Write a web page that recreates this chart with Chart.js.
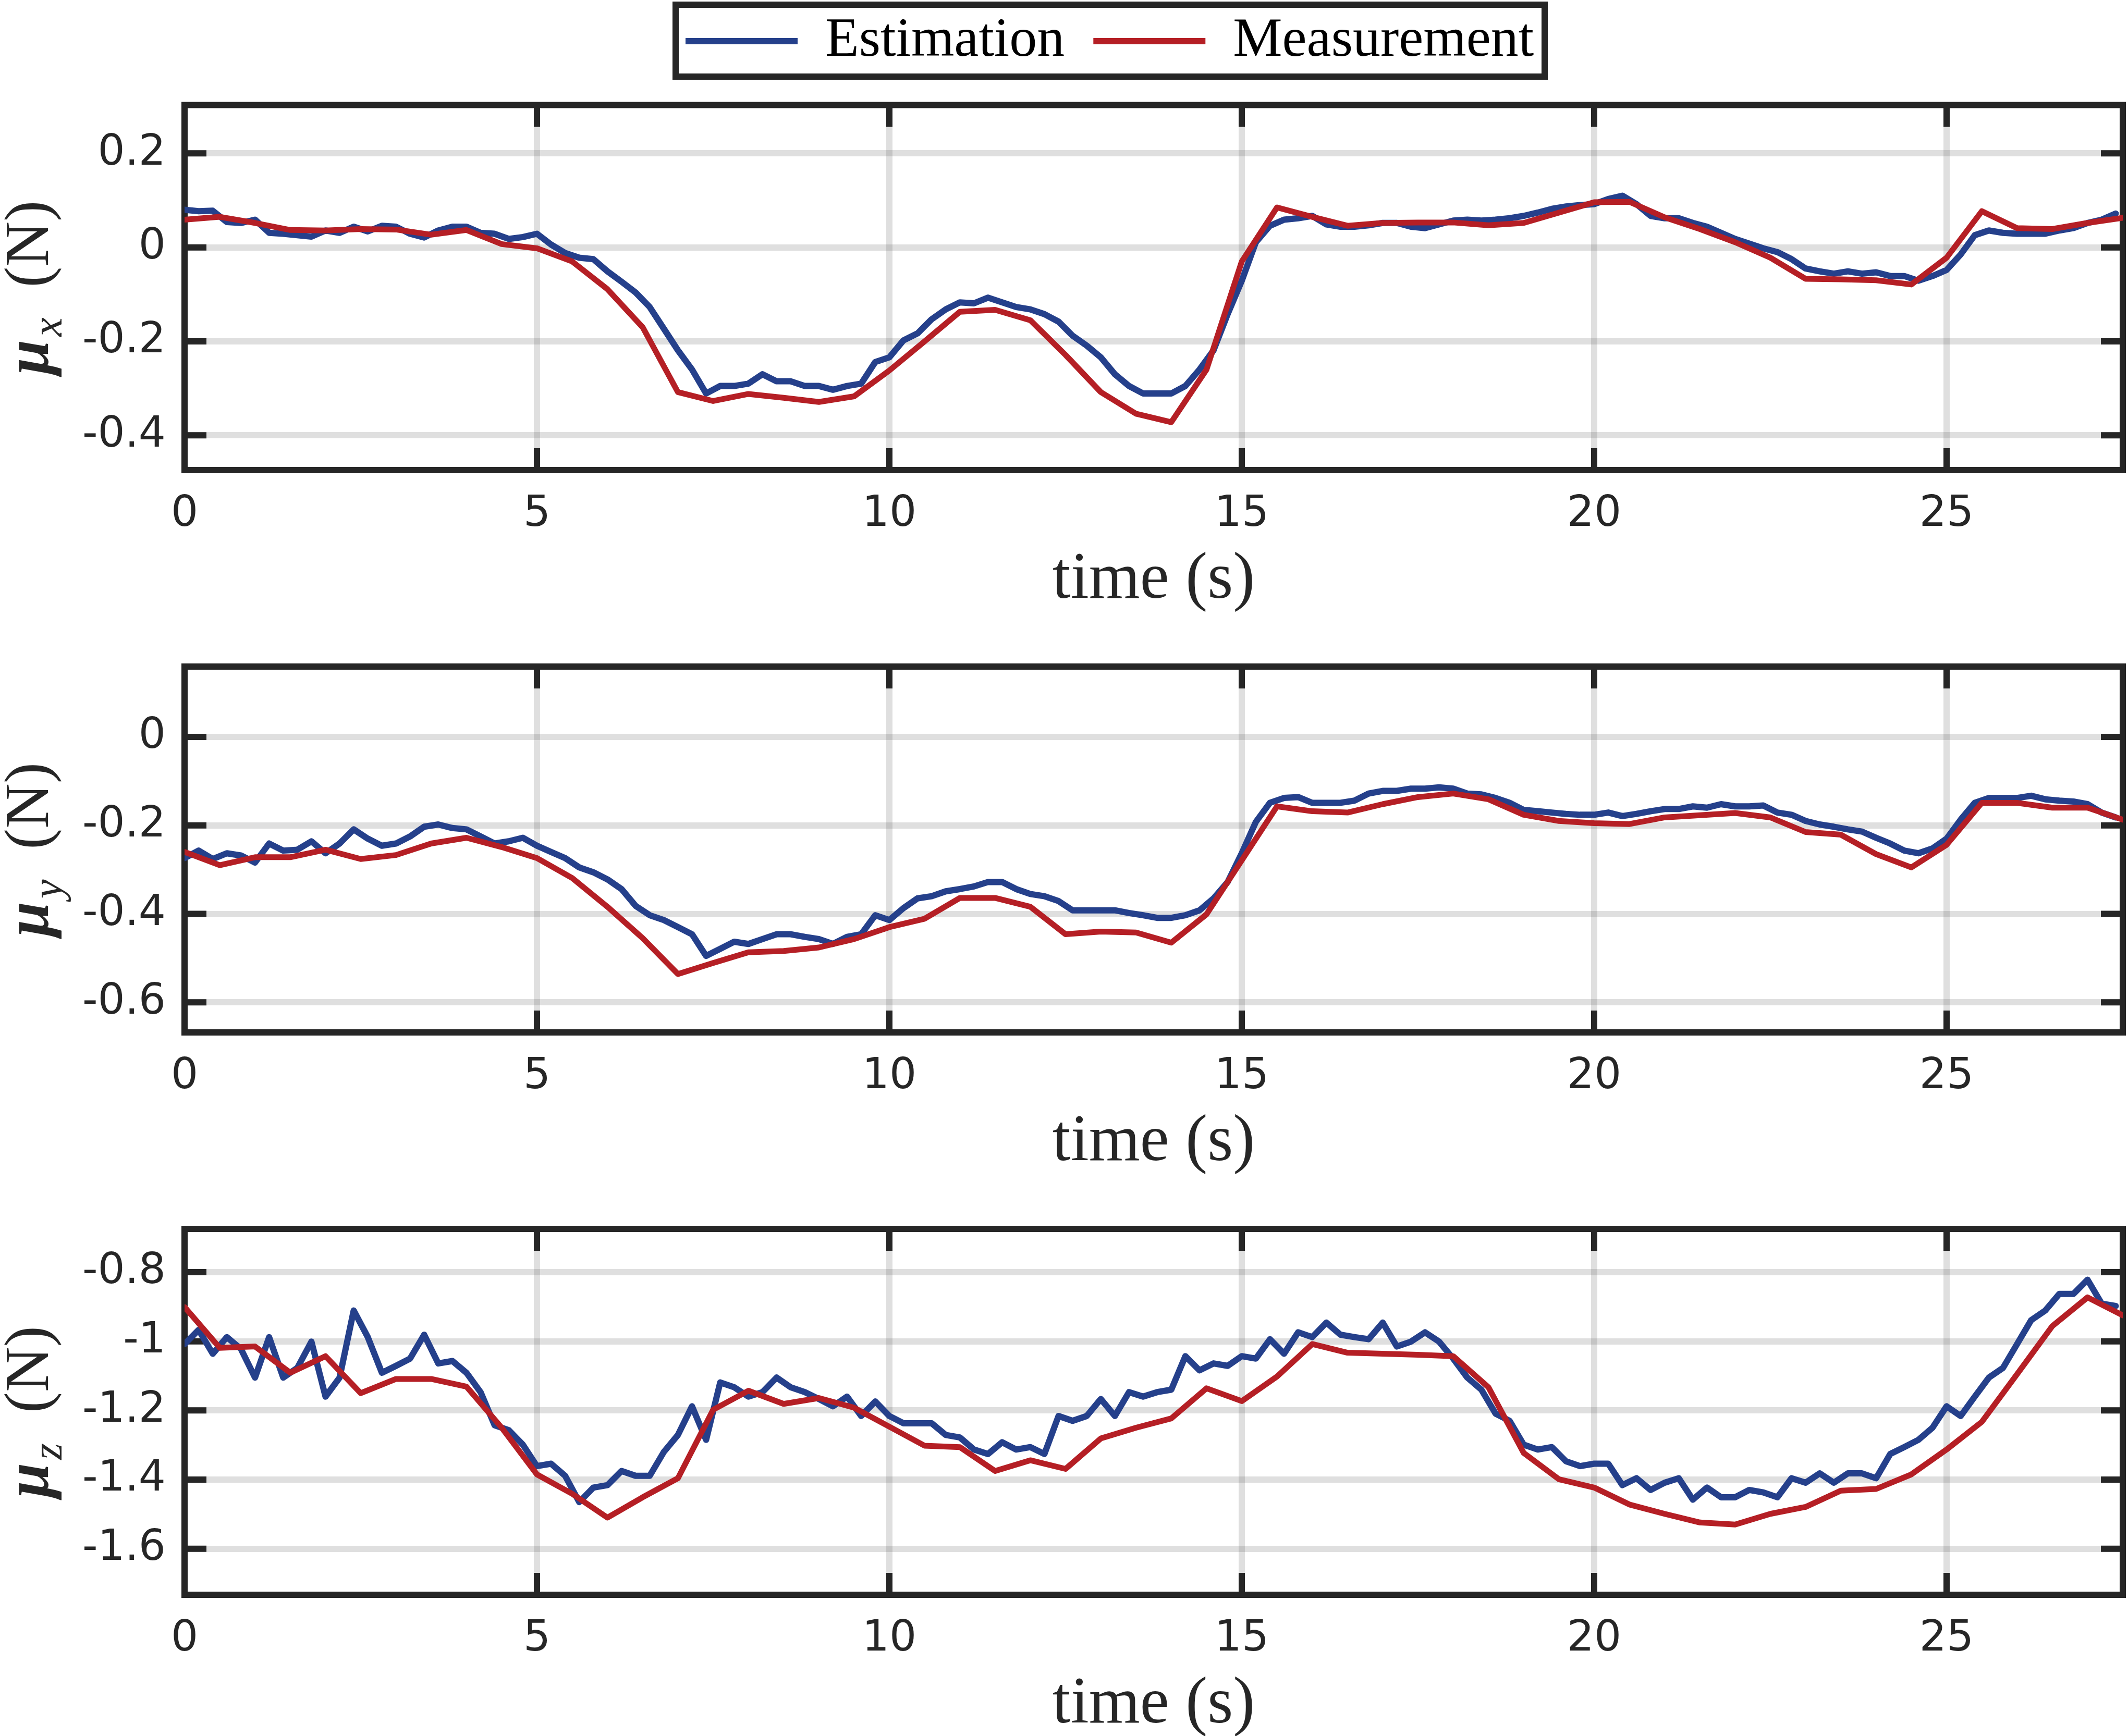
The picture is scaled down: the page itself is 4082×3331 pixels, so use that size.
<!DOCTYPE html>
<html><head><meta charset="utf-8">
<script src="https://cdn.jsdelivr.net/npm/chart.js@4.4.1/dist/chart.umd.min.js"></script>
<style>
html,body{margin:0;padding:0;background:#fff;}
body{width:4082px;height:3331px;position:relative;overflow:hidden;}
canvas{position:absolute;left:0;}
</style></head><body>
<canvas id="c1" width="4082" height="1180" style="top:0px"></canvas>
<canvas id="c2" width="4082" height="1090" style="top:1180px"></canvas>
<canvas id="c3" width="4082" height="1061" style="top:2270px"></canvas>
<script>
// ---------- data ----------
const seriesNames = ['Estimation', 'Measurement'];
const xTicks = [0, 5, 10, 15, 20, 25];
const yTicksX = [-0.4, -0.2, 0, 0.2];
const yTicksY = [-0.6, -0.4, -0.2, 0];
const yTicksZ = [-1.6, -1.4, -1.2, -1, -0.8];

// estimation sampled every 0.2 s (0 .. 27.4 s)
const estTime = Array.from({length: 138}, (_, i) => Math.round(i * 2) / 10);
// measurement sampled every 0.5 s (0 .. 27.5 s)
const measTime = Array.from({length: 56}, (_, i) => i * 0.5);

const estX = [
 0.080,0.077,0.078,0.054,0.052,0.059,0.031,0.029,0.026,0.023,
 0.036,0.031,0.044,0.034,0.046,0.044,0.029,0.021,0.036,0.044,
 0.044,0.031,0.029,0.018,0.022,0.029,0.006,-0.012,-0.022,-0.025,
 -0.051,-0.073,-0.096,-0.127,-0.173,-0.219,-0.260,-0.311,-0.295,-0.295,
 -0.290,-0.270,-0.285,-0.285,-0.295,-0.295,-0.303,-0.295,-0.290,-0.244,
 -0.234,-0.198,-0.183,-0.153,-0.132,-0.117,-0.119,-0.107,-0.117,-0.127,
 -0.132,-0.142,-0.158,-0.188,-0.209,-0.234,-0.270,-0.295,-0.311,-0.311,
 -0.311,-0.295,-0.260,-0.219,-0.142,-0.071,0.011,0.046,0.059,0.062,
 0.067,0.049,0.044,0.044,0.047,0.052,0.052,0.044,0.041,0.049,
 0.057,0.059,0.057,0.059,0.062,0.067,0.074,0.082,0.087,0.090,
 0.092,0.103,0.110,0.092,0.067,0.062,0.062,0.052,0.044,0.031,
 0.018,0.008,-0.002,-0.010,-0.025,-0.045,-0.051,-0.056,-0.051,-0.056,
 -0.053,-0.061,-0.061,-0.071,-0.061,-0.048,-0.015,0.026,0.036,0.031,
 0.029,0.029,0.029,0.036,0.041,0.052,0.059,0.072];
const measX = [
 0.059,0.065,0.052,0.037,0.036,0.039,0.038,0.027,0.037,0.007,
 -0.002,-0.030,-0.089,-0.170,-0.308,-0.327,-0.312,-0.320,-0.329,-0.317,
 -0.262,-0.200,-0.137,-0.133,-0.155,-0.229,-0.308,-0.354,-0.372,-0.260,
 -0.030,0.085,0.065,0.046,0.052,0.053,0.053,0.047,0.052,0.074,
 0.096,0.097,0.064,0.039,0.011,-0.022,-0.067,-0.068,-0.070,-0.079,
 -0.022,0.077,0.041,0.039,0.052,0.063];

const estY = [
 -0.274,-0.257,-0.276,-0.263,-0.268,-0.284,-0.241,-0.257,-0.255,-0.236,
 -0.263,-0.241,-0.209,-0.230,-0.246,-0.241,-0.225,-0.203,-0.198,-0.206,
 -0.209,-0.225,-0.241,-0.236,-0.228,-0.246,-0.260,-0.274,-0.295,-0.306,
 -0.322,-0.344,-0.382,-0.403,-0.414,-0.430,-0.446,-0.495,-0.479,-0.463,
 -0.468,-0.457,-0.446,-0.446,-0.452,-0.457,-0.468,-0.452,-0.446,-0.403,
 -0.414,-0.387,-0.365,-0.360,-0.349,-0.344,-0.338,-0.328,-0.328,-0.344,
 -0.355,-0.360,-0.371,-0.392,-0.392,-0.392,-0.392,-0.398,-0.403,-0.409,
 -0.409,-0.403,-0.392,-0.365,-0.328,-0.263,-0.192,-0.149,-0.138,-0.136,
 -0.149,-0.149,-0.149,-0.144,-0.128,-0.122,-0.122,-0.117,-0.117,-0.114,
 -0.117,-0.128,-0.130,-0.138,-0.149,-0.165,-0.168,-0.171,-0.174,-0.176,
 -0.176,-0.171,-0.179,-0.174,-0.168,-0.163,-0.163,-0.157,-0.160,-0.152,
 -0.157,-0.157,-0.155,-0.171,-0.176,-0.190,-0.198,-0.203,-0.209,-0.214,
 -0.228,-0.241,-0.257,-0.263,-0.252,-0.230,-0.187,-0.149,-0.138,-0.138,
 -0.138,-0.133,-0.141,-0.144,-0.146,-0.152,-0.171,-0.182];
const measY = [
 -0.260,-0.290,-0.272,-0.272,-0.255,-0.276,-0.267,-0.241,-0.228,-0.249,
 -0.274,-0.319,-0.384,-0.455,-0.536,-0.511,-0.487,-0.484,-0.476,-0.457,
 -0.430,-0.411,-0.364,-0.364,-0.384,-0.446,-0.440,-0.442,-0.465,-0.401,
 -0.279,-0.157,-0.168,-0.171,-0.152,-0.136,-0.128,-0.141,-0.176,-0.190,
 -0.195,-0.197,-0.182,-0.177,-0.172,-0.182,-0.215,-0.221,-0.265,-0.295,
 -0.244,-0.149,-0.149,-0.160,-0.160,-0.187];

const estZ = [
 -1.008,-0.967,-1.036,-0.988,-1.022,-1.105,-0.988,-1.105,-1.077,-1.001,
 -1.160,-1.105,-0.911,-0.988,-1.091,-1.071,-1.050,-0.981,-1.064,-1.057,
 -1.091,-1.147,-1.243,-1.257,-1.299,-1.361,-1.354,-1.389,-1.465,-1.423,
 -1.416,-1.375,-1.389,-1.389,-1.320,-1.271,-1.188,-1.285,-1.119,-1.133,
 -1.160,-1.147,-1.105,-1.133,-1.147,-1.167,-1.188,-1.160,-1.216,-1.174,
 -1.216,-1.237,-1.237,-1.237,-1.271,-1.278,-1.313,-1.326,-1.292,-1.313,
 -1.306,-1.326,-1.216,-1.230,-1.216,-1.167,-1.216,-1.147,-1.160,-1.147,
 -1.140,-1.043,-1.084,-1.064,-1.071,-1.043,-1.050,-0.994,-1.036,-0.974,
 -0.988,-0.946,-0.981,-0.988,-0.994,-0.946,-1.015,-1.001,-0.974,-1.001,
 -1.050,-1.105,-1.140,-1.209,-1.230,-1.299,-1.313,-1.306,-1.347,-1.361,
 -1.354,-1.354,-1.416,-1.396,-1.430,-1.409,-1.396,-1.458,-1.423,-1.451,
 -1.451,-1.430,-1.437,-1.451,-1.396,-1.409,-1.382,-1.409,-1.382,-1.382,
 -1.396,-1.326,-1.306,-1.285,-1.250,-1.188,-1.216,-1.160,-1.105,-1.077,
 -1.008,-0.939,-0.911,-0.863,-0.863,-0.822,-0.891,-0.898];
const measZ = [
 -0.901,-1.019,-1.015,-1.091,-1.043,-1.150,-1.109,-1.109,-1.131,-1.250,
 -1.385,-1.441,-1.510,-1.451,-1.396,-1.198,-1.143,-1.181,-1.164,-1.192,
 -1.247,-1.302,-1.306,-1.375,-1.344,-1.369,-1.281,-1.250,-1.223,-1.136,
 -1.173,-1.102,-1.008,-1.033,-1.036,-1.039,-1.043,-1.133,-1.323,-1.399,
 -1.423,-1.472,-1.499,-1.524,-1.530,-1.499,-1.479,-1.432,-1.427,-1.385,
 -1.313,-1.233,-1.095,-0.956,-0.873,-0.925];

// ---------- style ----------
const BLUE = '#25408b';
const RED = '#b51f25';
const FRAME = '#262626';
const GRID = 'rgba(38,38,38,0.15)';
const TICKFONT = {family: '"DejaVu Sans"', size: 82};
const SERIF = '"Liberation Serif", serif';

const framePlugin = {
  id: 'frame',
  beforeDatasetsDraw(chart) {
    const {ctx, chartArea: a, scales: {x, y}} = chart;
    ctx.save();
    ctx.strokeStyle = FRAME;
    ctx.lineWidth = 12;
    ctx.lineCap = 'butt';
    ctx.beginPath();
    xTicks.forEach(v => {
      const px = x.getPixelForValue(v);
      if (px <= a.left + 2) return;
      ctx.moveTo(px, a.bottom); ctx.lineTo(px, a.bottom - 42);
      ctx.moveTo(px, a.top); ctx.lineTo(px, a.top + 42);
    });
    y.ticks.forEach(t => {
      const py = y.getPixelForValue(t.value);
      ctx.moveTo(a.left, py); ctx.lineTo(a.left + 42, py);
      ctx.moveTo(a.right, py); ctx.lineTo(a.right - 42, py);
    });
    ctx.stroke();
    ctx.lineJoin = 'miter';
    ctx.strokeRect(a.left, a.top, a.right - a.left, a.bottom - a.top);
    ctx.restore();
  }
};

function yTitlePlugin(sub) {
  return {
    id: 'ytitle',
    afterDraw(chart) {
      const {ctx, chartArea: a} = chart;
      const cy = (a.top + a.bottom) / 2;
      ctx.save();
      ctx.translate(92, cy);
      ctx.rotate(-Math.PI / 2);
      ctx.fillStyle = FRAME;
      ctx.textBaseline = 'alphabetic';
      ctx.textAlign = 'left';
      const fMu = 'bold italic 120px ' + SERIF;
      const fSub = 'italic 82px ' + SERIF;
      const fN = '120px ' + SERIF;
      ctx.font = fMu; const wMu = ctx.measureText('\u03BC').width;
      ctx.font = fSub; const wSub = ctx.measureText(sub).width;
      ctx.font = fN; const wN = ctx.measureText('(N)').width;
      const gap1 = 6, gap2 = 58;
      let x0 = -(wMu + gap1 + wSub + gap2 + wN) / 2;
      ctx.font = fMu; ctx.fillText('\u03BC', x0, 0); x0 += wMu + gap1;
      ctx.font = fSub; ctx.fillText(sub, x0, 26); x0 += wSub + gap2;
      ctx.font = fN; ctx.fillText('(N)', x0, 0);
      ctx.restore();
    }
  };
}

const legendPlugin = {
  id: 'legendPos',
  afterLayout(chart) {
    const lg = chart.legend;
    if (!lg || !lg.options.display) return;
    const p = lg.options.labels.padding;
    const start = (lg.left + p + lg.right - lg.lineWidths[0]) / 2;
    const dx = 1315 - start;
    lg.left += dx; lg.right += dx;
    const dy = -29 - lg.top;
    lg.top += dy; lg.bottom += dy;
  },
  afterDraw(chart) {
    const ctx = chart.ctx;
    ctx.save();
    ctx.strokeStyle = FRAME;
    ctx.lineWidth = 12;
    ctx.strokeRect(1296, 9, 1667, 138);
    ctx.restore();
  }
};

function makeChart(id, est, meas, yMin, yMax, yTicks, sub, padTop, padBottom, withLegend) {
  const plugins = [framePlugin, yTitlePlugin(sub)];
  if (withLegend) plugins.push(legendPlugin);
  return new Chart(document.getElementById(id), {
    type: 'line',
    data: {
      datasets: [
        {label: seriesNames[0], data: estTime.map((t, i) => ({x: t, y: est[i]})),
         borderColor: BLUE, backgroundColor: BLUE, borderWidth: 12, pointRadius: 0,
         tension: 0, order: 2, borderJoinStyle: 'round', borderCapStyle: 'round', fill: false},
        {label: seriesNames[1], data: measTime.map((t, i) => ({x: t, y: meas[i]})),
         borderColor: RED, backgroundColor: RED, borderWidth: 11, pointRadius: 0,
         tension: 0, order: 1, borderJoinStyle: 'round', borderCapStyle: 'round', fill: false}
      ]
    },
    options: {
      responsive: false, animation: false, devicePixelRatio: 1,
      layout: {padding: {left: 0, right: 10, top: padTop, bottom: padBottom}},
      plugins: {
        tooltip: {enabled: false},
        legend: withLegend ? {
          display: true, position: 'top', align: 'center',
          labels: {
            font: {family: SERIF, size: 106}, color: '#000',
            boxWidth: 215, boxHeight: 12, padding: 55,
            sort: (a, b) => a.datasetIndex - b.datasetIndex,
            generateLabels(c) {
              const items = Chart.defaults.plugins.legend.labels.generateLabels(c);
              items.forEach(it => { it.lineWidth = 0; });
              return items;
            }
          }
        } : {display: false}
      },
      scales: {
        x: {
          type: 'linear', min: 0, max: 27.5,
          afterFit: s => { s.height = 267; },
          afterBuildTicks: s => { s.ticks = xTicks.map(v => ({value: v})); },
          grid: {color: GRID, lineWidth: 12, drawTicks: false},
          border: {display: false},
          ticks: {padding: 37, font: TICKFONT, color: FRAME, maxRotation: 0, autoSkip: false,
                  callback: v => String(v)},
          title: {display: true, text: 'time (s)', font: {family: SERIF, size: 126, lineHeight: 0.873},
                  color: FRAME, padding: 0}
        },
        y: {
          type: 'linear', min: yMin, max: yMax,
          afterFit: s => { s.width = 354; },
          afterBuildTicks: s => { s.ticks = yTicks.map(v => ({value: v})); },
          grid: {color: GRID, lineWidth: 12, drawTicks: false},
          border: {display: false},
          ticks: {padding: 36, font: TICKFONT, color: FRAME, autoSkip: false,
                  callback: v => String(v)}
        }
      }
    },
    plugins: plugins
  });
}

makeChart('c1', estX, measX, -0.474, 0.303, yTicksX, 'x', 30.5, 11, true);
makeChart('c2', estY, measY, -0.668, 0.159, yTicksY, 'y', 99, 22, false);
makeChart('c3', estZ, measZ, -1.733, -0.675, yTicksZ, 'z', 88, 4, false);
</script>
</body></html>
